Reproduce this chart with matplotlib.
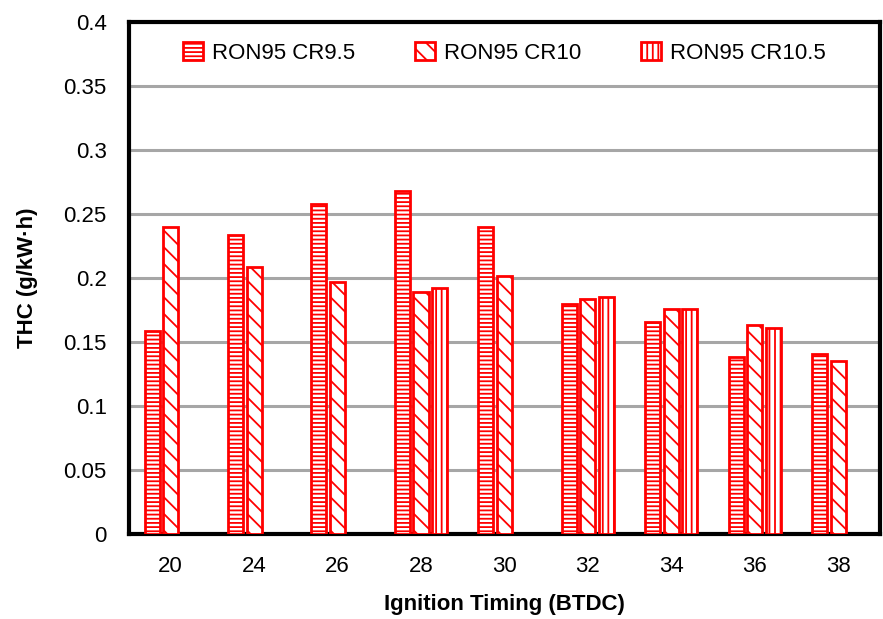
import numpy as np
import matplotlib.pyplot as plt

plt.rcParams["font.family"] = ["Liberation Sans", "DejaVu Sans"]
plt.rcParams["hatch.linewidth"] = 1.3

# Ignition timing (deg BTDC) and total hydrocarbon emissions (g/kW·h)
timing = ["20", "24", "26", "28", "30", "32", "34", "36", "38"]
cr95 = [0.159, 0.234, 0.258, 0.268, 0.240, 0.180, 0.166, 0.138, 0.141]
cr10 = [0.240, 0.209, 0.197, 0.189, 0.202, 0.184, 0.176, 0.163, 0.135]
cr105 = [np.nan, np.nan, np.nan, 0.192, np.nan, 0.185, 0.176, 0.161, np.nan]

series = [
    ("RON95 CR9.5", cr95, "----"),
    ("RON95 CR10", cr10, "\\\\"),
    ("RON95 CR10.5", cr105, "|||"),
]

fig = plt.figure(figsize=(8.83, 6.19), dpi=100)
ax = fig.add_axes([0.146, 0.137, 0.8506, 0.8275])

x = np.arange(len(timing))
width = 0.18
step = 0.223
for i, (name, vals, hatch) in enumerate(series):
    ax.bar(x + (i - 1) * step, vals, width, facecolor="white",
           edgecolor="red", linewidth=2, hatch=hatch, label=name, zorder=3)

ax.set_xlim(-0.5, len(timing) - 0.5)
ax.set_ylim(0, 0.4)
ax.set_yticks(np.arange(0, 0.41, 0.05))
ax.set_yticklabels(["0", "0.05", "0.1", "0.15", "0.2", "0.25", "0.3", "0.35", "0.4"])
ax.set_xticks(x)
ax.set_xticklabels(timing)
ax.tick_params(axis="both", length=0, labelsize=16)
ax.tick_params(axis="x", pad=16)
ax.tick_params(axis="y", pad=16)
ax.yaxis.grid(True, color="#a6a6a6", linewidth=2.2, zorder=0)
ax.set_axisbelow(True)
for side in ax.spines.values():
    side.set_linewidth(3)

ax.set_xlabel("Ignition Timing (BTDC)", fontsize=16, fontweight="bold", labelpad=12)
ax.set_ylabel("THC (g/kW·h)", fontsize=16, fontweight="bold", labelpad=18)

ax.legend(loc="upper center", ncol=3, frameon=False, fontsize=16,
          bbox_to_anchor=(0.5, 1.0), handlelength=0.9, handleheight=0.9,
          handletextpad=0.4, columnspacing=2.7)

fig.savefig("out.png", dpi=100)
